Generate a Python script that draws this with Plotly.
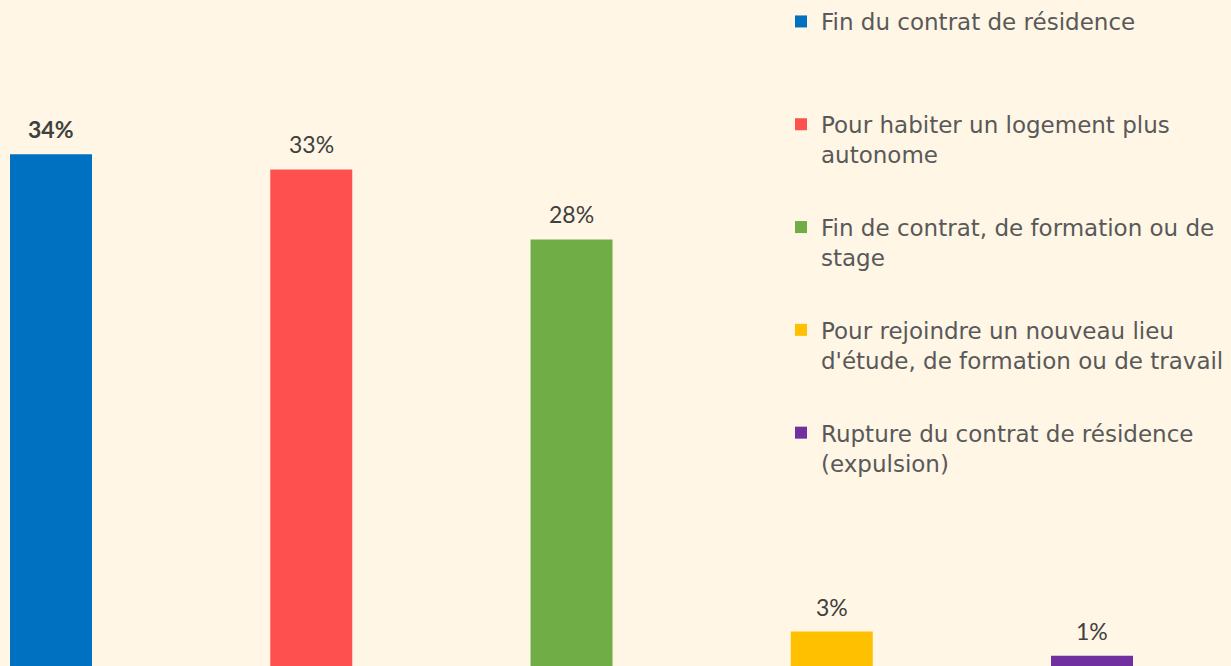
import plotly.graph_objects as go

categories = [
    "Fin du contrat de résidence",
    "Pour habiter un logement plus<br>autonome",
    "Fin de contrat, de formation ou de<br>stage",
    "Pour rejoindre un nouveau lieu<br>d'étude, de formation ou de travail",
    "Rupture du contrat de résidence<br>(expulsion)",
]
values = [34.0, 33.0, 28.4, 2.6, 1.0]
labels = ["<b>34%</b>", "33%", "28%", "3%", "1%"]
colors = ["#0070C0", "#FF5050", "#70AD47", "#FFC000", "#7030A0"]

BG = "#FFF6E5"
LABEL_FONT = "Lato"
LEGEND_FONT = "DejaVu Sans"

fig = go.Figure()
for i, (cat, val, col) in enumerate(zip(categories, values, colors)):
    name = cat if "<br>" in cat else cat + "<br> "
    fig.add_trace(go.Bar(
        x=[i], y=[val], name=name, legendgroup=f"g{i}",
        marker=dict(color=col, line=dict(width=0)),
        width=0.315,
        hoverinfo="skip",
    ))

for i, (val, lab) in enumerate(zip(values, labels)):
    fig.add_annotation(
        x=i, y=val, xref="x", yref="y", text=lab, showarrow=False,
        yanchor="bottom", yshift=9,
        font=dict(family=LABEL_FONT, size=23, color="#404040"),
    )

fig.update_layout(
    width=1231, height=666,
    margin=dict(l=0, r=0, t=0, b=0),
    paper_bgcolor=BG, plot_bgcolor=BG,
    barmode="overlay",
    showlegend=True,
    legend=dict(
        x=781 / 1231, xanchor="left", y=1.0, yanchor="top",
        font=dict(family=LEGEND_FONT, size=23, color="#595959"),
        traceorder="grouped", tracegroupgap=40, valign="top",
        bgcolor="rgba(0,0,0,0)",
    ),
    xaxis=dict(visible=False, range=[-0.196, 4.534], fixedrange=True),
    yaxis=dict(visible=False, range=[0.33, 44.15], fixedrange=True),
)

fig.write_html(
    "out.html",
    config={"displayModeBar": False},
    post_script="document.body.style.margin='0px';",
)
